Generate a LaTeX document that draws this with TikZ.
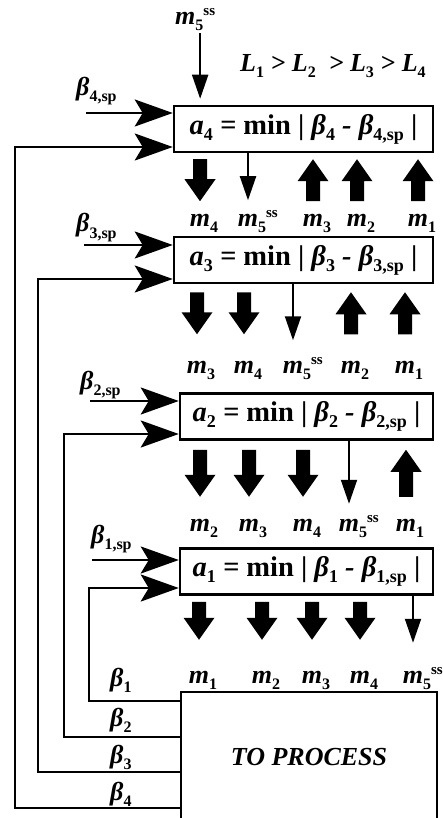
\documentclass[tikz,border=0pt]{standalone}
\usepackage{fontspec}
\setmainfont{Liberation Serif}
\usetikzlibrary{arrows.meta,calc}
\newcommand\lo[1]{\raisebox{-6pt}{\fontsize{16}{16}\selectfont\upshape #1}}
\newcommand\hi[1]{\raisebox{9pt}{\fontsize{15}{15}\selectfont\upshape #1}}
\newcommand\blo[1]{\raisebox{-6pt}{\fontsize{18}{18}\selectfont\upshape #1}}
\tikzset{
  lab/.style={inner sep=0pt, anchor=base, font=\fontsize{26}{26}\selectfont\bfseries\itshape},
  box/.style={draw, line width=2.5pt, minimum height=46pt, inner sep=0pt,
    font=\fontsize{28.5}{28.5}\selectfont\bfseries\itshape},
  inarr/.style={line width=2.5pt, -{Stealth[length=38pt,width=27pt,inset=8pt]}},
  thinarr/.style={line width=2pt, -{Triangle[length=24pt,width=16pt]}},
  pics/fatdn/.style={code={\fill (-7,0) -- (7,0) -- (7,#1-22) -- (15.5,#1-22) -- (0,#1) -- (-15.5,#1-22) -- (-7,#1-22) -- cycle;}},
  pics/fatup/.style={code={\fill (-7,0) -- (7,0) -- (7,22-#1) -- (15.5,22-#1) -- (0,-#1) -- (-15.5,22-#1) -- (-7,22-#1) -- cycle;}},
}
\begin{document}
\begin{tikzpicture}[x=1pt,y=-1pt]
\useasboundingbox (0,0) rectangle (443,818);
\clip (0,0) rectangle (443,818);
\fill[white] (0,0) rectangle (443,818);

% boxes
\node[box, minimum width=259pt] (box4) at (303.5,129) {\textit{a}\blo{4} = \textup{min} \textup{|} β\blo{4} - β\blo{4,sp} \textup{|}};
\node[box, minimum width=259pt] (box3) at (303.5,260) {\textit{a}\blo{3} = \textup{min} \textup{|} β\blo{3} - β\blo{3,sp} \textup{|}};
\node[box, minimum width=253pt] (box2) at (306.5,416.5) {\textit{a}\blo{2} = \textup{min} \textup{|} β\blo{2} - β\blo{2,sp} \textup{|}};
\node[box, minimum width=253pt] (box1) at (306.5,571.5) {\textit{a}\blo{1} = \textup{min} \textup{|} β\blo{1} - β\blo{1,sp} \textup{|}};
\node[draw, line width=2.5pt, minimum width=256pt, minimum height=130pt, inner sep=0pt,
  font=\fontsize{26}{26}\selectfont\bfseries\itshape] (proc) at (309,757) {TO PROCESS};

% top
\node[lab, anchor=base west] (top5) at (175,25) {m\lo{5}\hi{ss}};
\draw[thinarr] ($(top5.south)+(5,2)$) -- ($(box4.north -| top5.south)+(5,-6)$);
\node[lab, anchor=base west] (order) at (240,72) {L\lo{1} > L\lo{2} \ > L\lo{3} > L\lo{4}};

% setpoint inputs
\node[lab, anchor=base west] (b4sp) at (76,96) {β\lo{4,sp}};
\node[lab, anchor=base west] (b3sp) at (76,232) {β\lo{3,sp}};
\node[lab, anchor=base west] (b2sp) at (80,389) {β\lo{2,sp}};
\node[lab, anchor=base west] (b1sp) at (91,543) {β\lo{1,sp}};
\coordinate (s4) at (86,113);
\coordinate (s3) at (84,245);
\coordinate (s2) at (90,401);
\coordinate (s1) at (92,560);
\draw[inarr] (s4) -- (s4 -| box4.west);
\draw[inarr] (s3) -- (s3 -| box3.west);
\draw[inarr] (s2) -- (s2 -| box2.west);
\draw[inarr] (s1) -- (s1 -| box1.west);

% feedback from process
\node[lab, anchor=base west] (o1) at (110,686) {β\lo{1}};
\node[lab, anchor=base west] (o2) at (110,726) {β\lo{2}};
\node[lab, anchor=base west] (o3) at (110,763) {β\lo{3}};
\node[lab, anchor=base west] (o4) at (110,800) {β\lo{4}};
\coordinate (f4) at (15,147);
\coordinate (f3) at (38,279);
\coordinate (f2) at (64,434);
\coordinate (f1) at (89,588);
\draw[inarr] ($(proc.north west)+(0,117)$) -| (f4) -- (f4 -| box4.west);
\draw[inarr] ($(proc.north west)+(0,81)$) -| (f3) -- (f3 -| box3.west);
\draw[inarr] ($(proc.north west)+(0,46)$) -| (f2) -- (f2 -| box2.west);
\draw[inarr] ($(proc.north west)+(0,10)$) -| (f1) -- (f1 -| box1.west);

% row 1
\node[lab] (r1a) at (200,226) {m\rlap{\lo{4}}};
\node[lab] (r1b) at (248,226) {m\rlap{\lo{5}\hi{ss}}};
\node[lab] (r1c) at (313,226) {m\rlap{\lo{3}}};
\node[lab] (r1d) at (357,226) {m\rlap{\lo{2}}};
\node[lab] (r1e) at (418,226) {m\rlap{\lo{1}}};
\pic at ($(box4.south -| r1a)+(0,6)$) {fatdn=42};
\draw[thinarr] (box4.south -| r1b) -- ++(0,47);
\pic at ($(box4.south -| r1c)+(0,48)$) {fatup=42};
\pic at ($(box4.south -| r1d)+(0,48)$) {fatup=42};
\pic at ($(box4.south -| r1e)+(0,48)$) {fatup=42};

% row 2
\node[lab] (r2a) at (197,373) {m\rlap{\lo{3}}};
\node[lab] (r2b) at (244,373) {m\rlap{\lo{4}}};
\node[lab] (r2c) at (293,373) {m\rlap{\lo{5}\hi{ss}}};
\node[lab] (r2d) at (351,373) {m\rlap{\lo{2}}};
\node[lab] (r2e) at (405,373) {m\rlap{\lo{1}}};
\pic at ($(box3.south -| r2a)+(0,8)$) {fatdn=42};
\pic at ($(box3.south -| r2b)+(0,8)$) {fatdn=42};
\draw[thinarr] (box3.south -| r2c) -- ++(0,56);
\pic at ($(box3.south -| r2d)+(0,50)$) {fatup=42};
\pic at ($(box3.south -| r2e)+(0,50)$) {fatup=42};

% row 3
\node[lab] (r3a) at (200,531) {m\rlap{\lo{2}}};
\node[lab] (r3b) at (249,531) {m\rlap{\lo{3}}};
\node[lab] (r3c) at (303,531) {m\rlap{\lo{4}}};
\node[lab] (r3d) at (349,531) {m\rlap{\lo{5}\hi{ss}}};
\node[lab] (r3e) at (406,531) {m\rlap{\lo{1}}};
\pic at ($(box2.south -| r3a)+(0,9)$) {fatdn=47};
\pic at ($(box2.south -| r3b)+(0,9)$) {fatdn=47};
\pic at ($(box2.south -| r3c)+(0,9)$) {fatdn=47};
\draw[thinarr] (box2.south -| r3d) -- ++(0,63);
\pic at ($(box2.south -| r3e)+(0,56)$) {fatup=47};

% row 4
\node[lab] (r4a) at (199,683) {m\rlap{\lo{1}}};
\node[lab] (r4b) at (262,683) {m\rlap{\lo{2}}};
\node[lab] (r4c) at (312,683) {m\rlap{\lo{3}}};
\node[lab] (r4d) at (360,683) {m\rlap{\lo{4}}};
\node[lab] (r4e) at (413,683) {m\rlap{\lo{5}\hi{ss}}};
\pic at ($(box1.south -| r4a)+(0,6)$) {fatdn=38};
\pic at ($(box1.south -| r4b)+(0,6)$) {fatdn=38};
\pic at ($(box1.south -| r4c)+(0,6)$) {fatdn=38};
\pic at ($(box1.south -| r4d)+(0,6)$) {fatdn=38};
\draw[thinarr] (box1.south -| r4e) -- ++(0,47);
\end{tikzpicture}
\end{document}
